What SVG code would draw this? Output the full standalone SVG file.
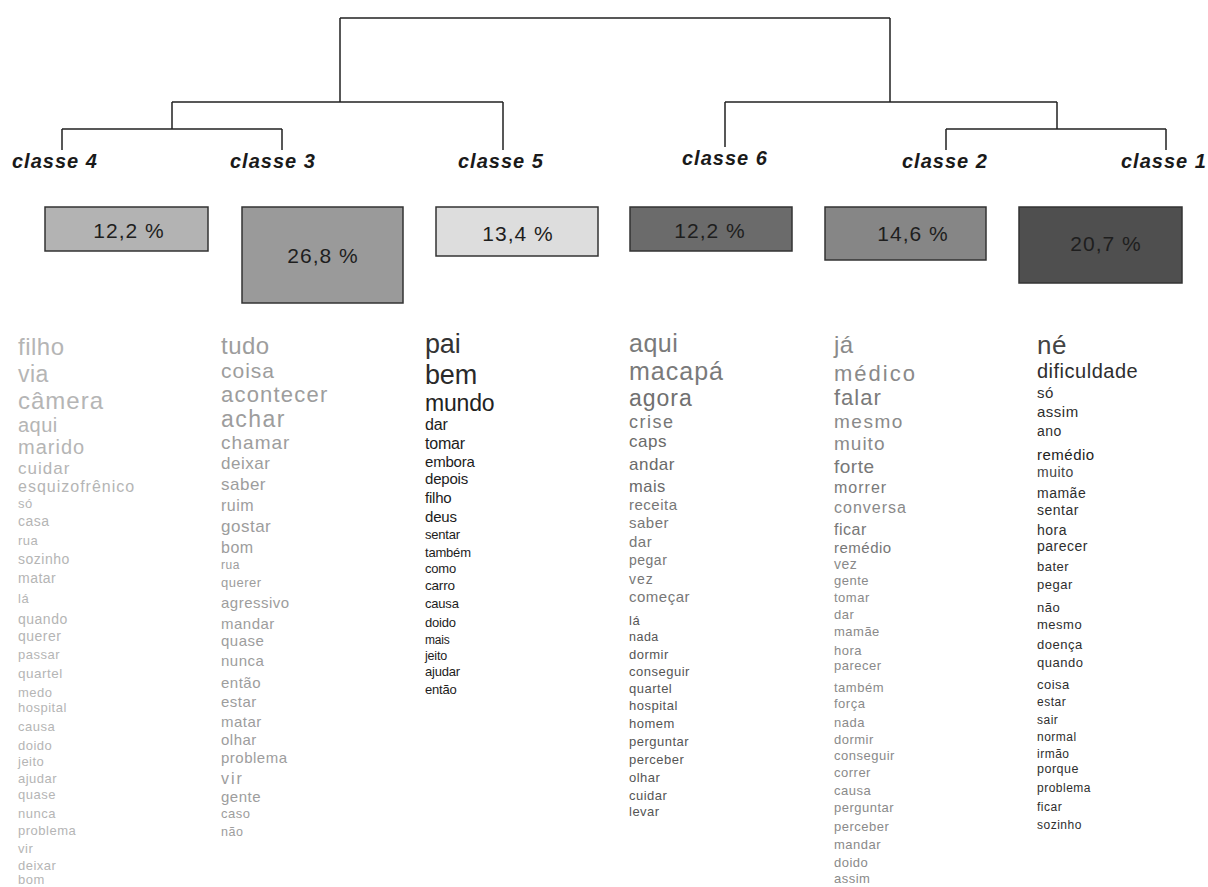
<svg xmlns="http://www.w3.org/2000/svg" width="1208" height="887" viewBox="0 0 1208 887">
<style>
text{font-family:"Liberation Sans",Arial,sans-serif}
.lbl{font-style:italic;font-weight:bold;font-size:20px;fill:#1a1a1a;letter-spacing:1px}
.pct{font-size:21px;fill:#1e1e1e;text-anchor:middle;letter-spacing:1px}
.box{stroke:#333;stroke-width:1.5}
.ln{fill:none;stroke:#222;stroke-width:1.5}
.w{letter-spacing:0.5px}
.c4{fill:#b5b5b5}
.c3{fill:#9d9d9d}
.c5{fill:#1c1c1c;letter-spacing:-0.2px}
.c6{fill:#6a6a6a}
.c2{fill:#8a8a8a}
.c1{fill:#2e2e2e}
</style>
<rect width="1208" height="887" fill="#fff"/>
<g id="connectors">
<path class="ln" d="M340 18H890M340 18V102M890 18V102M172 102H503M172 102V129M62 129H282M62 129V150M282 129V150M503 102V150M725 102H1057M725 102V147M1057 102V129M946 129H1166M946 129V150M1166 129V150"/>
</g>
<g id="classe-4">
<text class="lbl" x="12" y="168">classe 4</text>
<rect class="box" x="45" y="207" width="163" height="44" fill="#b3b3b3"/>
<text class="pct" x="129" y="238">12,2 %</text>
<g class="c4 w">
<text x="18" y="355" font-size="24">filho</text>
<text x="18" y="382" font-size="23">via</text>
<text x="18" y="409" font-size="24" letter-spacing="1">câmera</text>
<text x="18" y="432" font-size="20">aqui</text>
<text x="18" y="454" font-size="20" letter-spacing="1">marido</text>
<text x="18" y="474" font-size="17" letter-spacing="1">cuidar</text>
<text x="18" y="492" font-size="16" letter-spacing="1">esquizofrênico</text>
<text x="18" y="508" font-size="13">só</text>
<text x="18" y="526" font-size="14">casa</text>
<text x="18" y="545" font-size="13">rua</text>
<text x="18" y="564" font-size="14">sozinho</text>
<text x="18" y="583" font-size="14">matar</text>
<text x="18" y="603" font-size="13">lá</text>
<text x="18" y="624" font-size="14">quando</text>
<text x="18" y="641" font-size="14">querer</text>
<text x="18" y="659" font-size="13">passar</text>
<text x="18" y="678" font-size="13.5">quartel</text>
<text x="18" y="697" font-size="13">medo</text>
<text x="18" y="712" font-size="13">hospital</text>
<text x="18" y="731" font-size="13">causa</text>
<text x="18" y="750" font-size="13">doido</text>
<text x="18" y="766" font-size="13">jeito</text>
<text x="18" y="783" font-size="13">ajudar</text>
<text x="18" y="799" font-size="13">quase</text>
<text x="18" y="818" font-size="13">nunca</text>
<text x="18" y="835" font-size="13">problema</text>
<text x="18" y="853" font-size="13">vir</text>
<text x="18" y="870" font-size="13">deixar</text>
<text x="18" y="884" font-size="13">bom</text>
</g>
</g>
<g id="classe-3">
<text class="lbl" x="230" y="168">classe 3</text>
<rect class="box" x="242" y="207" width="161" height="96" fill="#9a9a9a"/>
<text class="pct" x="323" y="263">26,8 %</text>
<g class="c3 w">
<text x="221" y="354" font-size="24">tudo</text>
<text x="221" y="378" font-size="21" letter-spacing="1">coisa</text>
<text x="221" y="402" font-size="22" letter-spacing="1.2">acontecer</text>
<text x="221" y="427" font-size="23" letter-spacing="1.5">achar</text>
<text x="221" y="449" font-size="19" letter-spacing="1">chamar</text>
<text x="221" y="469" font-size="17">deixar</text>
<text x="221" y="490" font-size="17">saber</text>
<text x="221" y="511" font-size="16">ruim</text>
<text x="221" y="532" font-size="17">gostar</text>
<text x="221" y="553" font-size="16">bom</text>
<text x="221" y="569" font-size="12">rua</text>
<text x="221" y="587" font-size="13">querer</text>
<text x="221" y="608" font-size="15">agressivo</text>
<text x="221" y="629" font-size="15">mandar</text>
<text x="221" y="646" font-size="15">quase</text>
<text x="221" y="666" font-size="15">nunca</text>
<text x="221" y="688" font-size="15">então</text>
<text x="221" y="707" font-size="15">estar</text>
<text x="221" y="727" font-size="15">matar</text>
<text x="221" y="745" font-size="15">olhar</text>
<text x="221" y="763" font-size="15">problema</text>
<text x="221" y="784" font-size="16" letter-spacing="2">vir</text>
<text x="221" y="802" font-size="15">gente</text>
<text x="221" y="818" font-size="13">caso</text>
<text x="221" y="836" font-size="12.5">não</text>
</g>
</g>
<g id="classe-5">
<text class="lbl" x="458" y="168">classe 5</text>
<rect class="box" x="436" y="207" width="162" height="49" fill="#dddddd"/>
<text class="pct" x="518" y="241">13,4 %</text>
<g class="c5">
<text x="425" y="353" font-size="27" fill="#333">pai</text>
<text x="425" y="384" font-size="27" fill="#2a2a2a">bem</text>
<text x="425" y="411" font-size="23" fill="#222">mundo</text>
<text x="425" y="430" font-size="16">dar</text>
<text x="425" y="449" font-size="16">tomar</text>
<text x="425" y="467" font-size="15">embora</text>
<text x="425" y="484" font-size="15">depois</text>
<text x="425" y="503" font-size="15">filho</text>
<text x="425" y="522" font-size="15">deus</text>
<text x="425" y="539" font-size="13">sentar</text>
<text x="425" y="557" font-size="13">também</text>
<text x="425" y="573" font-size="13">como</text>
<text x="425" y="590" font-size="13.5">carro</text>
<text x="425" y="608" font-size="13">causa</text>
<text x="425" y="627" font-size="13">doido</text>
<text x="425" y="644" font-size="12">mais</text>
<text x="425" y="660" font-size="12.5">jeito</text>
<text x="425" y="676" font-size="13">ajudar</text>
<text x="425" y="694" font-size="13">então</text>
</g>
</g>
<g id="classe-6">
<text class="lbl" x="682" y="165">classe 6</text>
<rect class="box" x="630" y="207" width="162" height="44" fill="#6b6b6b"/>
<text class="pct" x="710" y="238">12,2 %</text>
<g class="c6 w">
<text x="629" y="352" font-size="25" fill="#7a7a7a">aqui</text>
<text x="629" y="380" font-size="25" fill="#7a7a7a" letter-spacing="1">macapá</text>
<text x="629" y="406" font-size="23" fill="#707070" letter-spacing="1">agora</text>
<text x="629" y="428" font-size="18" fill="#777" letter-spacing="1.5">crise</text>
<text x="629" y="447" font-size="17">caps</text>
<text x="629" y="470" font-size="17">andar</text>
<text x="629" y="492" font-size="16.5">mais</text>
<text x="629" y="510" font-size="15" fill="#777">receita</text>
<text x="629" y="528" font-size="15" fill="#777">saber</text>
<text x="629" y="547" font-size="15" fill="#777">dar</text>
<text x="629" y="565" font-size="14" fill="#777">pegar</text>
<text x="629" y="584" font-size="14" fill="#777" letter-spacing="1">vez</text>
<text x="629" y="602" font-size="15" fill="#777">começar</text>
<text x="629" y="625" font-size="13" fill="#555">lá</text>
<text x="629" y="641" font-size="12.5" fill="#555">nada</text>
<text x="629" y="659" font-size="13" fill="#555">dormir</text>
<text x="629" y="676" font-size="13" fill="#555">conseguir</text>
<text x="629" y="693" font-size="13" fill="#555">quartel</text>
<text x="629" y="710" font-size="13" fill="#555">hospital</text>
<text x="629" y="728" font-size="13" fill="#555">homem</text>
<text x="629" y="746" font-size="13" fill="#555">perguntar</text>
<text x="629" y="764" font-size="13" fill="#555">perceber</text>
<text x="629" y="782" font-size="13" fill="#555">olhar</text>
<text x="629" y="800" font-size="13" fill="#555">cuidar</text>
<text x="629" y="816" font-size="13" fill="#555">levar</text>
</g>
</g>
<g id="classe-2">
<text class="lbl" x="902" y="168">classe 2</text>
<rect class="box" x="825" y="207" width="161" height="53" fill="#868686"/>
<text class="pct" x="913" y="241">14,6 %</text>
<g class="c2 w">
<text x="834" y="353" font-size="24">já</text>
<text x="834" y="381" font-size="22" letter-spacing="2">médico</text>
<text x="834" y="405" font-size="22" fill="#7a7a7a" letter-spacing="1">falar</text>
<text x="834" y="428" font-size="19" letter-spacing="1.5">mesmo</text>
<text x="834" y="450" font-size="19" letter-spacing="1">muito</text>
<text x="834" y="473" font-size="19" fill="#777">forte</text>
<text x="834" y="493" font-size="16" fill="#7a7a7a" letter-spacing="1">morrer</text>
<text x="834" y="513" font-size="16" letter-spacing="1">conversa</text>
<text x="834" y="535" font-size="16" fill="#777">ficar</text>
<text x="834" y="553" font-size="15" fill="#777">remédio</text>
<text x="834" y="569" font-size="14">vez</text>
<text x="834" y="585" font-size="13">gente</text>
<text x="834" y="602" font-size="13">tomar</text>
<text x="834" y="619" font-size="13">dar</text>
<text x="834" y="636" font-size="13">mamãe</text>
<text x="834" y="655" font-size="13">hora</text>
<text x="834" y="670" font-size="13">parecer</text>
<text x="834" y="692" font-size="13">também</text>
<text x="834" y="708" font-size="13">força</text>
<text x="834" y="727" font-size="13">nada</text>
<text x="834" y="744" font-size="13">dormir</text>
<text x="834" y="760" font-size="13">conseguir</text>
<text x="834" y="777" font-size="13">correr</text>
<text x="834" y="795" font-size="13">causa</text>
<text x="834" y="812" font-size="13">perguntar</text>
<text x="834" y="831" font-size="13">perceber</text>
<text x="834" y="849" font-size="13">mandar</text>
<text x="834" y="867" font-size="13">doido</text>
<text x="834" y="883" font-size="13">assim</text>
</g>
</g>
<g id="classe-1">
<text class="lbl" x="1121" y="168">classe 1</text>
<rect class="box" x="1019" y="207" width="163" height="76" fill="#4f4f4f"/>
<text class="pct" x="1106" y="251">20,7 %</text>
<g class="c1 w">
<text x="1037" y="354" font-size="26" fill="#444">né</text>
<text x="1037" y="378" font-size="20">dificuldade</text>
<text x="1037" y="398" font-size="15">só</text>
<text x="1037" y="417" font-size="15">assim</text>
<text x="1037" y="436" font-size="14">ano</text>
<text x="1037" y="460" font-size="15" fill="#222">remédio</text>
<text x="1037" y="477" font-size="14" fill="#444">muito</text>
<text x="1037" y="498" font-size="14">mamãe</text>
<text x="1037" y="515" font-size="14">sentar</text>
<text x="1037" y="535" font-size="14">hora</text>
<text x="1037" y="551" font-size="14">parecer</text>
<text x="1037" y="571" font-size="13">bater</text>
<text x="1037" y="589" font-size="13">pegar</text>
<text x="1037" y="612" font-size="13">não</text>
<text x="1037" y="629" font-size="13">mesmo</text>
<text x="1037" y="649" font-size="13">doença</text>
<text x="1037" y="667" font-size="13">quando</text>
<text x="1037" y="689" font-size="13">coisa</text>
<text x="1037" y="706" font-size="12">estar</text>
<text x="1037" y="724" font-size="12">sair</text>
<text x="1037" y="741" font-size="12">normal</text>
<text x="1037" y="758" font-size="12">irmão</text>
<text x="1037" y="773" font-size="12.5">porque</text>
<text x="1037" y="792" font-size="12">problema</text>
<text x="1037" y="811" font-size="12">ficar</text>
<text x="1037" y="829" font-size="12">sozinho</text>
</g>
</g>
</svg>
